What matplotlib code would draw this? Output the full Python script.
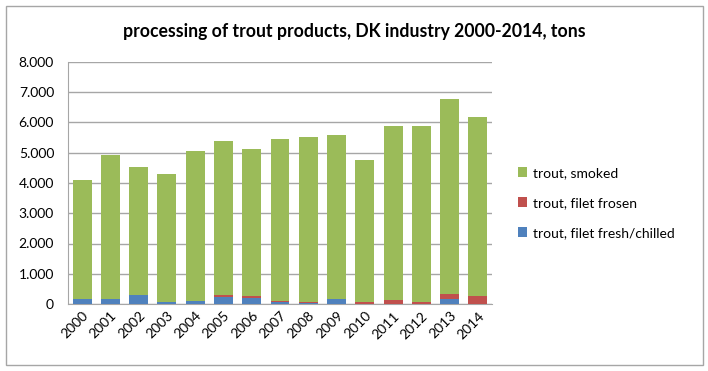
import matplotlib
matplotlib.use('Agg')
import matplotlib.pyplot as plt
from matplotlib.patches import Rectangle
from matplotlib.ticker import FuncFormatter
import numpy as np

years = [str(y) for y in range(2000, 2015)]
# tons
fresh_chilled = [150, 150, 310, 80, 100, 240, 210, 70, 40, 155, 5, 5, 5, 175, 10]
filet_frosen = [0, 0, 0, 0, 0, 60, 60, 30, 10, 25, 75, 130, 60, 145, 250]
totals = [4100, 4920, 4530, 4300, 5060, 5390, 5130, 5470, 5530, 5580, 4770, 5870, 5890, 6780, 6170]
smoked = [t - a - b for t, a, b in zip(totals, fresh_chilled, filet_frosen)]

plt.rcParams['font.family'] = ['Lato', 'DejaVu Sans']

fig = plt.figure(figsize=(7.08, 3.71), dpi=100)
fig.patches.append(Rectangle((6 / 708, 6 / 371), 697 / 708, 359 / 371, transform=fig.transFigure,
                             fill=False, edgecolor='#a6a6a6', linewidth=1.0))

ax = fig.add_axes([68 / 708, 1 - 304 / 371, 424 / 708, 242 / 371])
x = np.arange(len(years))
w = 0.67
fc = np.array(fresh_chilled)
ff = np.array(filet_frosen)
sm = np.array(smoked)
ax.bar(x, fc, w, color='#4F81BD', label='trout, filet fresh/chilled', zorder=3)
ax.bar(x, ff, w, bottom=fc, color='#C0504D', label='trout, filet frosen', zorder=3)
ax.bar(x, sm, w, bottom=fc + ff, color='#9BBB59', label='trout, smoked', zorder=3)

ax.set_xlim(-0.5, len(years) - 0.5)
ax.set_ylim(0, 8000)
ax.set_yticks(range(0, 8001, 1000))
ax.yaxis.set_major_formatter(FuncFormatter(lambda v, p: f'{int(v):,}'.replace(',', '.')))
ax.set_xticks(x)
ax.set_xticklabels(years, rotation=45, ha='right', rotation_mode='anchor', fontsize=10)
ax.tick_params(axis='y', labelsize=10, length=0, pad=10)
ax.tick_params(axis='x', length=0, pad=4)
ax.grid(axis='y', color='#a6a6a6', linewidth=1.0, zorder=0)
for s in ['top', 'right']:
    ax.spines[s].set_visible(False)
ax.spines['left'].set_color('#a6a6a6')
ax.spines['bottom'].set_color('#a6a6a6')

fig.text(354 / 708, 1 - 32 / 371, 'processing of trout products, DK industry 2000-2014, tons',
         ha='center', va='center', fontsize=12.7, fontweight='bold')

handles, labels = ax.get_legend_handles_labels()
fig.legend(handles[::-1], labels[::-1], loc='center left', bbox_to_anchor=(505 / 708, 1 - 203 / 371),
           frameon=False, fontsize=10, handlelength=0.7, handleheight=0.7, handletextpad=0.4,
           labelspacing=1.3)

fig.savefig('out.png', dpi=100)
